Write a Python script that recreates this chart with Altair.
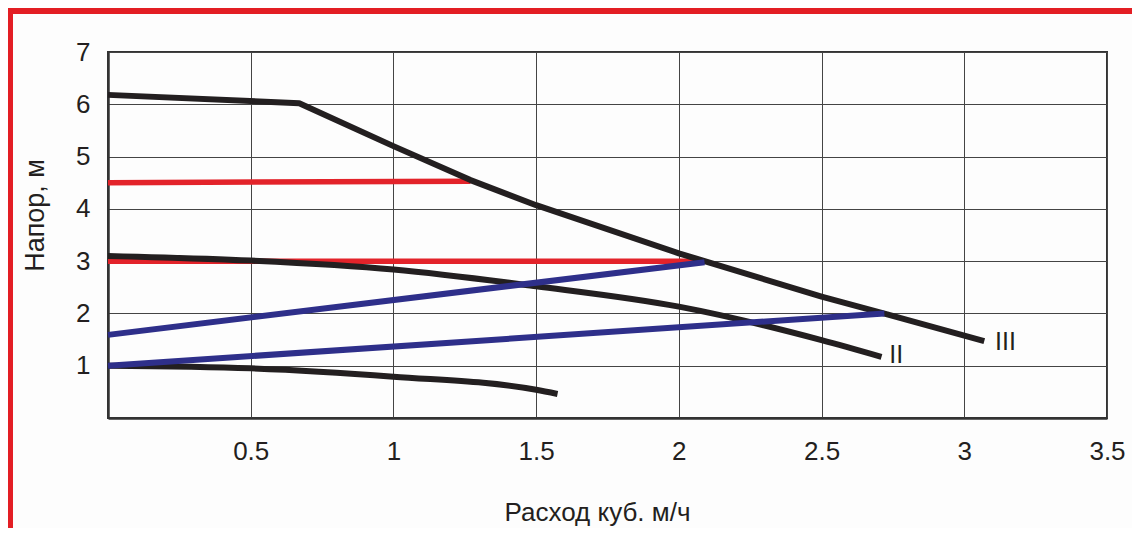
import altair as alt
import pandas as pd

# Pump curves (black)
curve1_x = [0.0, 0.5, 1.0, 1.5, 1.575]
curve1_y = [1.0, 0.95, 0.79, 0.54, 0.46]
curve2_x = [0.0, 0.5, 1.0, 1.5, 2.0, 2.5, 2.71]
curve2_y = [3.1, 3.01, 2.84, 2.52, 2.13, 1.49, 1.17]
curve3_x = [0.0, 0.67, 1.0, 1.27, 1.5, 2.0, 2.5, 2.73, 3.07]
curve3_y = [6.18, 6.02, 5.2, 4.55, 4.07, 3.15, 2.32, 1.98, 1.47]

# Red horizontal lines
red1_x = [0.0, 1.27]
red1_y = [4.5, 4.53]
red2_x = [0.0, 2.09]
red2_y = [3.0, 3.0]

# Blue system lines
blue1_x = [0.0, 2.09]
blue1_y = [1.59, 2.98]
blue2_x = [0.0, 2.72]
blue2_y = [1.0, 2.0]

label_text = ["II", "III"]
label_x = [2.737, 3.108]
label_y = [1.05, 1.30]

x_ticks = [0.5, 1, 1.5, 2, 2.5, 3, 3.5]
y_ticks = [1, 2, 3, 4, 5, 6, 7]

BLACK = "#231f20"
RED = "#e3232a"
BLUE = "#2e2f8a"


def frame(name, xs, ys):
    return pd.DataFrame({"series": name, "x": xs, "y": ys, "o": range(len(xs))})


black_smooth_df = pd.concat([frame("I", curve1_x, curve1_y),
                             frame("II", curve2_x, curve2_y)])
black_iii_df = frame("III", curve3_x, curve3_y)
red_df = pd.concat([frame("r1", red1_x, red1_y), frame("r2", red2_x, red2_y)])
blue_df = pd.concat([frame("b1", blue1_x, blue1_y), frame("b2", blue2_x, blue2_y)])
labels_df = pd.DataFrame({"t": label_text, "x": label_x, "y": label_y})

FONT = "Liberation Sans"

xscale = alt.Scale(domain=[0, 3.5], nice=False, zero=False)
yscale = alt.Scale(domain=[0, 7], nice=False, zero=False)

xaxis = alt.Axis(values=x_ticks, title="Расход куб. м/ч", grid=True, ticks=False, tickSize=0,
                 labelFontSize=26, labelFont=FONT, labelColor=BLACK, labelPadding=41,
                 labelBaseline="alphabetic", labelFlush=False,
                 gridColor="#444444", gridWidth=1, gridOpacity=1,
                 domainColor="#333333", domainWidth=2.5,
                 titleFont=FONT, titleFontSize=26, titleFontWeight="normal", titleColor=BLACK,
                 titleX=489, titleY=102, titleAlign="center", titleBaseline="alphabetic",
                 format="~g")
yaxis = alt.Axis(values=y_ticks, title="Напор, м", grid=True, ticks=False, tickSize=0,
                 labelFontSize=26, labelFont=FONT, labelColor=BLACK, labelPadding=18,
                 labelBaseline="middle", labelFlush=False, format="d",
                 gridColor="#444444", gridWidth=1, gridOpacity=1,
                 domainColor="#333333", domainWidth=2.5,
                 titleFont=FONT, titleFontSize=27, titleFontWeight="normal", titleColor=BLACK,
                 titleAngle=-90, titleX=-65, titleY=163, titleAlign="center",
                 titleBaseline="alphabetic")

base_x = alt.X("x:Q", scale=xscale, axis=xaxis)
base_y = alt.Y("y:Q", scale=yscale, axis=yaxis)

red = alt.Chart(red_df).mark_line(color=RED, strokeWidth=5.5, strokeCap="butt").encode(
    x=base_x, y=base_y, detail="series:N", order="o:Q")
black_smooth = alt.Chart(black_smooth_df).mark_line(color=BLACK, strokeWidth=6, strokeCap="butt",
                                                    interpolate="monotone").encode(
    x="x:Q", y="y:Q", detail="series:N", order="o:Q")
black_iii = alt.Chart(black_iii_df).mark_line(color=BLACK, strokeWidth=6, strokeCap="butt",
                                              strokeJoin="round").encode(
    x="x:Q", y="y:Q", order="o:Q")
blue = alt.Chart(blue_df).mark_line(color=BLUE, strokeWidth=6, strokeCap="butt").encode(
    x="x:Q", y="y:Q", detail="series:N", order="o:Q")
labels = alt.Chart(labels_df).mark_text(font=FONT, fontSize=25, color=BLACK, align="left",
                                        baseline="alphabetic").encode(
    x="x:Q", y="y:Q", text="t:N")

border_top = alt.Chart(pd.DataFrame({"a": [0]})).mark_rule(color="#e31e24", strokeWidth=6).encode(
    x=alt.value(-101), x2=alt.value(1040), y=alt.value(-41))
border_left = alt.Chart(pd.DataFrame({"a": [0]})).mark_rule(color="#e31e24", strokeWidth=6).encode(
    x=alt.value(-98), y=alt.value(-44), y2=alt.value(490))

chart = alt.layer(red, black_smooth, black_iii, blue, labels, border_top, border_left).properties(
    width=999, height=366,
    autosize=alt.AutoSizeParams(type="none"),
    padding={"left": 100, "top": 44, "right": 25, "bottom": 110},
    background="#fdfdfd",
).configure_view(stroke="#333333", strokeWidth=2)

chart.save("out.html", embed_options={"renderer": "svg", "actions": False})
